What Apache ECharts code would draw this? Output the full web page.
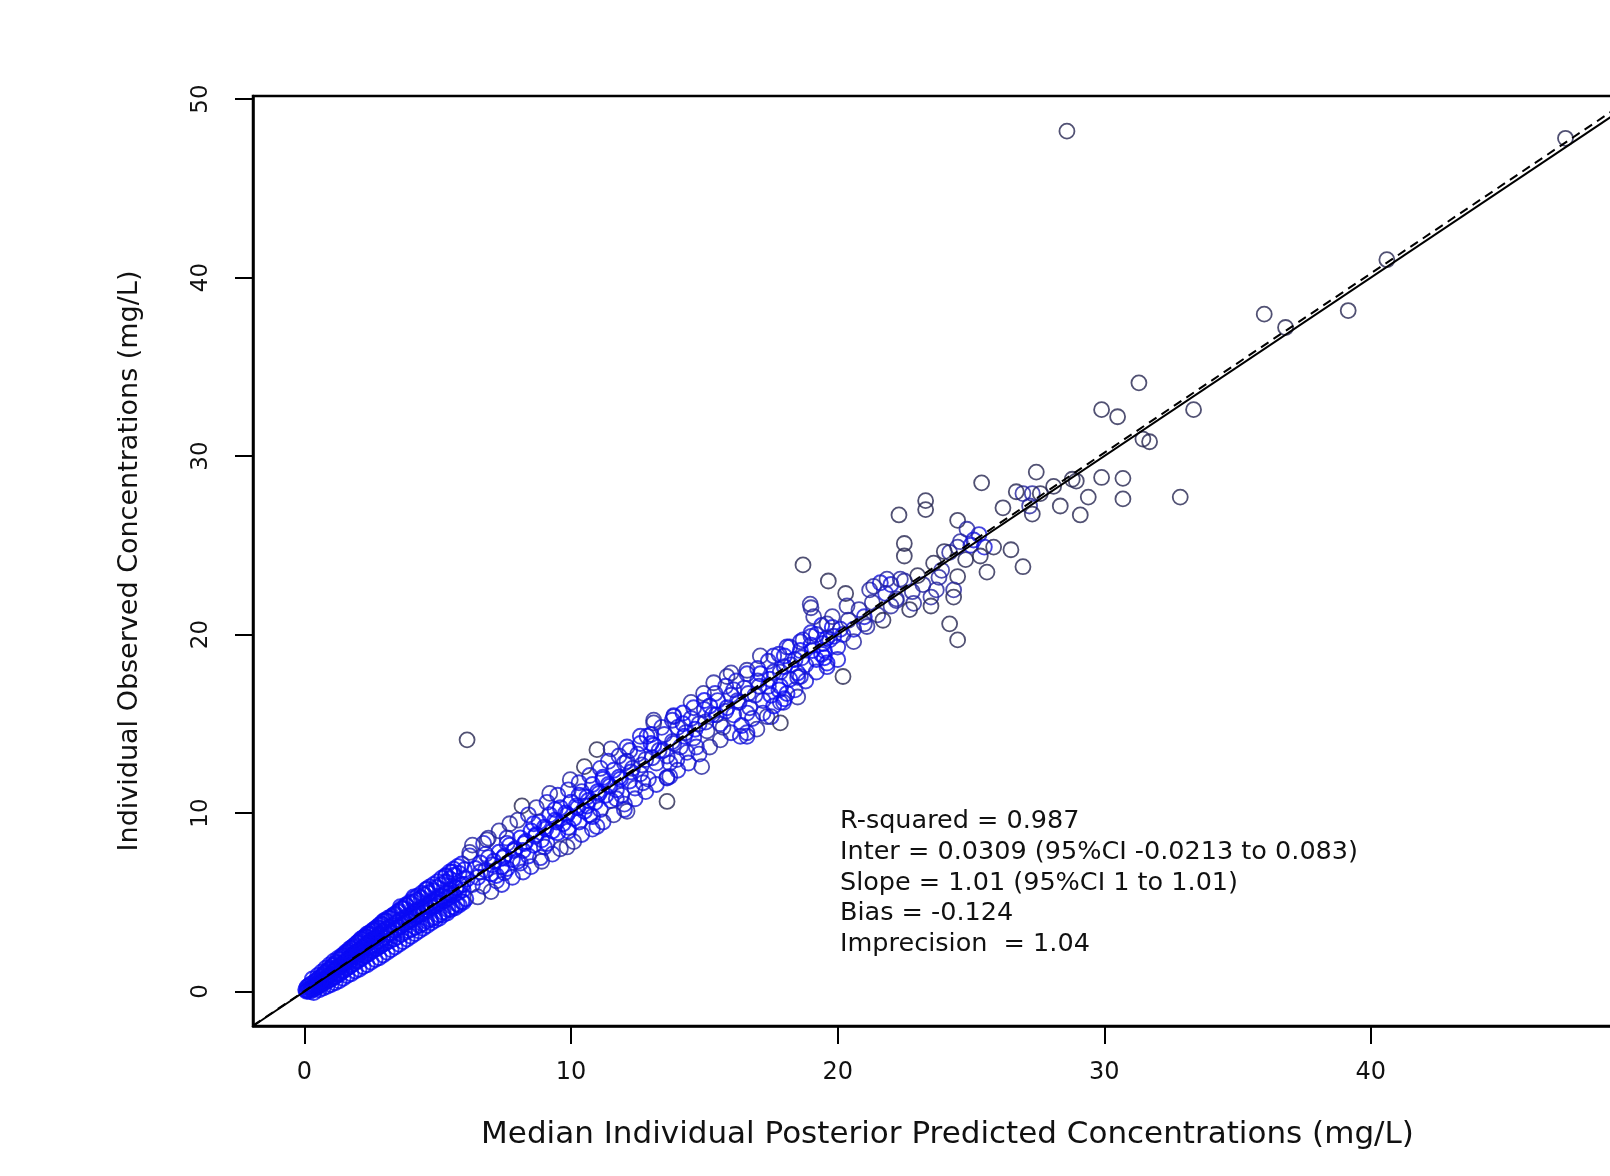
<!DOCTYPE html>
<html>
<head>
<meta charset="utf-8">
<script src="https://cdn.jsdelivr.net/npm/echarts@6/dist/echarts.min.js"></script>
<style>
html,body{margin:0;padding:0;background:#fff;}
#chart{width:1610px;height:1176px;}
</style>
</head>
<body>
<div id="chart"></div>
<script>
// ---------- DATA ----------
const xTickValues = [0, 10, 20, 30, 40, 50];
const yTickValues = [0, 10, 20, 30, 40, 50];
const xTitle = 'Median Individual Posterior Predicted Concentrations (mg/L)';
const yTitle = 'Individual Observed Concentrations (mg/L)';
const statLines = [
  'R-squared = 0.987',
  'Inter = 0.0309 (95%CI -0.0213 to 0.083)',
  'Slope = 1.01 (95%CI 1 to 1.01)',
  'Bias = -0.124',
  'Imprecision  = 1.04'
];
const regIntercept = [0.0309];
const regSlope = [1.005];
const identityIntercept = [0];
const identitySlope = [1];

// dense band, 0 - 6 mg/L
const lowBand = [
[0.05,0.1],[0.08,0.02],[0.1,0.25],[0.12,0.05],[0.15,0.3],[0.18,0.12],[0.2,0.0],[0.22,0.4],[0.25,0.2],[0.28,0.1],
[0.3,0.45],[0.32,0.28],[0.35,0.15],[0.38,0.55],[0.4,0.35],[0.42,0.2],[0.45,0.62],[0.48,0.4],[0.5,0.3],[0.52,0.72],
[0.55,0.5],[0.58,0.33],[0.6,0.8],[0.62,0.55],[0.65,0.42],[0.68,0.92],[0.7,0.64],[0.72,0.48],[0.75,1.02],[0.78,0.7],
[0.8,0.55],[0.82,1.12],[0.85,0.78],[0.88,0.6],[0.9,1.22],[0.92,0.9],[0.95,0.68],[0.98,1.3],[1.0,0.95],
[1.02,0.7],[1.05,1.45],[1.08,1.12],[1.1,0.8],[1.12,1.52],[1.15,1.2],[1.18,0.86],[1.2,1.62],[1.22,1.0],[1.25,1.35],
[1.28,0.94],[1.3,1.8],[1.32,1.42],[1.35,1.05],[1.38,1.92],[1.4,1.5],[1.42,1.14],[1.45,2.02],[1.48,1.6],[1.5,1.2],
[1.52,2.1],[1.55,1.7],[1.58,1.3],[1.6,2.22],[1.62,1.82],[1.65,1.36],[1.68,2.3],[1.7,1.9],[1.72,1.44],[1.75,2.42],
[1.78,2.0],[1.8,1.52],[1.82,2.5],[1.85,2.12],[1.88,1.6],[1.9,2.62],[1.92,2.2],[1.95,1.7],[1.98,2.72],[2.0,2.25],
[2.02,1.74],[2.05,2.82],[2.08,2.35],[2.1,1.82],[2.12,2.95],[2.15,2.4],[2.18,1.9],[2.2,3.02],[2.22,2.5],[2.25,2.0],
[2.28,3.1],[2.3,2.6],[2.32,2.05],[2.35,3.22],[2.38,2.7],[2.4,2.12],[2.42,3.25],[2.45,2.8],[2.48,2.2],[2.5,3.35],
[2.52,2.9],[2.55,2.3],[2.58,3.45],[2.6,2.95],[2.62,2.35],[2.65,3.52],[2.68,3.02],[2.7,2.4],[2.72,3.6],[2.75,3.1],
[2.78,2.5],[2.8,3.72],[2.82,3.2],[2.85,2.55],[2.88,3.8],[2.9,3.3],[2.92,2.62],[2.95,3.92],[2.98,3.4],[3.0,2.7],
[3.02,4.0],[3.05,3.5],[3.08,2.75],[3.1,3.2],[3.15,4.12],[3.18,3.6],[3.2,2.85],[3.25,3.3],[3.28,4.22],[3.3,3.7],
[3.35,2.95],[3.38,3.45],[3.42,4.35],[3.45,3.85],[3.48,3.05],[3.52,3.6],[3.55,4.52],[3.58,4.0],[3.62,3.2],[3.65,3.7],
[3.7,4.62],[3.72,4.1],[3.75,3.3],[3.8,3.85],[3.82,4.8],[3.85,4.2],[3.9,3.4],[3.92,3.95],[3.95,4.92],[4.0,4.3],
[4.02,3.5],[4.05,4.05],[4.1,5.02],[4.12,4.45],[4.15,3.6],[4.2,4.2],[4.22,5.12],[4.25,4.55],[4.3,3.7],[4.32,4.3],
[4.38,5.25],[4.4,4.7],[4.42,3.8],[4.48,4.4],[4.5,5.42],[4.55,4.8],[4.58,3.95],[4.62,4.55],[4.65,5.5],[4.7,4.95],
[4.72,4.05],[4.78,4.7],[4.8,5.65],[4.85,5.1],[4.88,4.15],[4.92,4.8],[4.95,5.82],[5.0,5.2],[5.05,4.3],[5.08,4.95],
[5.1,5.95],[5.15,5.35],[5.2,4.45],[5.25,5.1],[5.28,6.12],[5.32,5.5],[5.38,4.6],[5.42,5.25],[5.45,6.3],[5.5,5.65],
[5.55,4.75],[5.6,5.4],[5.62,6.52],[5.68,5.8],[5.72,4.9],[5.78,5.55],[5.8,6.62],[5.85,5.95],[5.9,5.05],[5.95,5.7],
[6.0,6.82],[5.55,6.7],[5.3,6.45],[4.6,5.75],[4.1,5.3],[3.6,4.75],[6.05,5.2]
];

// outer edge of the dense band, 0 - 6 mg/L
const lowBandEdge = [
[0.3,0.7],[0.35,-0.05],[0.5,0.9],[0.55,0.1],[0.65,1.1],[0.7,0.2],[0.8,1.3],[0.85,0.3],[0.95,1.5],[1.0,0.4],
[1.1,1.7],[1.15,0.5],[1.25,1.85],[1.3,0.6],[1.4,2.0],[1.45,0.75],[1.55,2.2],[1.6,0.9],[1.7,2.4],[1.75,1.0],
[1.85,2.55],[1.9,1.15],[2.0,2.75],[2.05,1.25],[2.15,2.9],[2.2,1.4],[2.3,3.05],[2.35,1.5],[2.45,3.2],[2.5,1.65],
[2.6,3.4],[2.65,1.8],[2.75,3.55],[2.8,1.9],[2.9,3.75],[2.95,2.05],[3.05,3.95],[3.1,2.2],[3.2,4.1],[3.25,2.35],
[3.35,4.3],[3.4,2.5],[3.5,4.45],[3.55,2.65],[3.65,4.65],[3.7,2.8],[3.8,4.85],[3.85,2.95],[3.95,5.0],[4.0,3.1],
[4.1,5.2],[4.15,3.25],[4.25,5.35],[4.3,3.4],[4.4,5.5],[4.45,3.55],[4.55,5.7],[4.6,3.7],[4.7,5.85],[4.75,3.85],
[4.85,6.0],[4.9,4.0],[5.0,6.15],[5.05,4.1],[5.15,6.35],[5.2,4.3],[5.3,6.5],[5.35,4.4],[5.45,6.7],[5.5,4.6],
[5.6,6.85],[5.65,4.7],[5.75,7.0],[5.8,4.85],[5.9,7.15],[5.95,5.0],
[0.6,0.6],[1.2,1.3],[1.7,1.7],[2.2,2.3],[2.7,2.8],[3.2,3.3],[3.7,3.8],[4.2,4.3],[4.7,4.8],[5.2,5.3],
[5.7,5.8],[1.45,1.45],[1.95,2.0],[2.45,2.5],[2.95,3.0],[3.45,3.5],[3.95,4.0],[4.45,4.5],[4.95,5.0],[5.45,5.5],[5.95,6.0]
];

// band, 6 - 26 mg/L
const midBand = [
[6.2,7.6],[6.72,8.3],[7.6,8.6],[8.85,7.5],[9.85,8.1],[8.16,10.4],[9.2,11.1],[9.97,11.87],[10.5,12.6],[10.97,13.55],
[11.5,13.6],[12.1,13.7],[12.6,14.3],[13.1,15.05],[13.85,15.4],[14.97,16.7],[15.35,17.3],[16.0,17.85],[17.1,18.8],[17.85,17.1],
[17.5,15.4],[16.97,14.7],[16.35,14.3],[16.6,14.5],[17.85,15.05],[18.5,16.5],[18.6,17.65],[17.85,16.2],[13.6,10.65],[14.9,12.6],
[12.1,10.1],[13.7,12.05],[13.97,13.0],[14.35,13.4],[13.6,11.96],[12.0,10.2],[10.97,9.25],[10.6,10.4],[7.5,6.65],[6.85,8.5],
[6.2,7.8],[13.1,15.2],[13.85,15.45],[12.85,14.3],[18.97,21.7],[18.7,19.7],[18.1,19.3],[17.6,18.8],[16.6,18.0],[15.85,17.65],
[14.5,16.2],[17.35,15.4],[18.1,16.7],[20.2,17.65],[19.6,18.4],[18.5,17.85],[17.97,16.2],[16.6,14.3],
[6.1,6.3],[6.3,6.0],[6.4,6.9],[6.5,6.4],[6.6,7.2],[6.7,5.9],[6.8,6.8],[6.9,7.5],[7.0,6.6],[7.1,7.3],
[7.2,6.2],[7.3,7.8],[7.4,7.0],[7.5,7.6],[7.6,6.9],[7.7,8.2],[7.8,7.4],[7.9,8.0],[8.0,7.3],[8.1,8.6],
[8.2,7.9],[8.3,8.4],[8.4,7.6],[8.5,9.0],[8.6,8.2],[8.7,8.8],[8.8,9.5],[8.9,8.5],[9.0,9.2],[9.1,8.3],
[9.2,9.9],[9.3,9.0],[9.4,9.6],[9.5,8.9],[9.6,10.3],[9.7,9.4],[9.8,10.0],[9.9,9.2],[10.0,10.6],[10.1,9.7],
[10.2,10.4],[10.3,9.5],[10.4,11.2],[10.5,10.1],[10.6,10.9],[10.7,9.9],[10.8,11.6],[10.9,10.6],[11.0,11.2],[11.1,10.2],
[11.2,12.0],[11.3,11.0],[11.4,11.6],[11.5,10.7],[11.6,12.4],[11.7,11.3],[11.8,12.0],[11.9,11.0],[12.0,12.8],[12.2,11.8],
[12.3,12.5],[12.4,11.4],[12.5,13.3],[12.6,12.2],[12.8,13.0],[12.9,11.9],[13.0,13.9],[13.2,12.8],[13.3,13.5],[13.5,14.4],
[13.6,13.2],[13.8,14.0],[14.0,14.8],[14.1,13.7],[14.3,14.5],[14.5,15.3],[14.6,14.2],[14.8,15.0],[15.0,15.8],[15.1,14.6],
[15.3,15.5],[15.5,16.3],[15.6,15.0],[15.8,15.7],[16.0,16.6],[16.1,15.5],[16.3,16.2],[16.5,17.0],[16.7,15.9],[16.9,16.6],
[17.0,17.4],[17.2,16.3],[17.4,17.1],[17.6,17.9],[17.8,16.9],[18.0,18.2],[18.2,17.5],[18.4,18.6],[18.6,19.1],[18.8,18.3],
[19.0,19.4],[19.2,20.0],[19.4,18.9],[19.6,19.8],[19.8,20.4],[20.0,19.3],[20.2,20.0],[20.4,20.8],[20.6,19.6],[20.8,21.4],
[21.0,20.6],[21.3,21.8],[21.5,21.1],[21.8,22.3],[22.0,22.8],[22.2,21.9],[22.5,23.0],[22.8,22.4],[23.0,23.3],[23.2,22.8],
[23.6,24.0],[23.8,23.2],[24.2,24.6],[24.6,25.2],[24.8,24.2],[25.3,25.6]
];

// extra spread of the band, 6 - 20 mg/L
const midBandEdge = [
[6.3,8.2],[6.5,5.3],[6.9,8.6],[7.0,5.6],[7.3,9.0],[7.4,6.0],[7.7,9.4],[7.8,6.4],[8.0,9.6],[8.2,6.7],
[8.4,9.9],[8.5,7.0],[8.7,10.3],[8.9,7.3],[9.1,10.6],[9.3,7.7],[9.5,11.0],[9.6,8.0],[9.9,11.3],[10.1,8.4],
[10.3,11.7],[10.4,8.8],[10.7,12.1],[10.8,9.1],[11.1,12.5],[11.2,9.5],[11.4,12.9],[11.6,9.9],[11.8,13.2],[12.0,10.5],
[12.2,13.5],[12.4,10.8],[12.6,13.9],[12.8,11.2],[13.0,14.4],[13.2,11.6],[13.4,14.8],[13.6,12.0],[13.8,15.2],[14.0,12.4],
[14.2,15.6],[14.4,12.8],[14.6,15.9],[14.8,13.3],[15.0,16.3],[15.2,13.7],[15.4,16.7],[15.6,14.1],[15.8,17.1],[16.0,14.5],
[16.2,17.4],[16.4,14.9],[16.6,17.8],[16.8,15.3],[17.0,18.1],[17.2,15.6],[17.4,18.5],[17.6,16.0],[17.8,18.9],[18.0,16.4],
[18.2,19.3],[18.4,16.9],[18.6,19.6],[18.8,17.4],[19.0,20.1],[19.2,17.9],[19.4,20.5],[19.6,18.2],[19.8,21.0],[20.0,18.6],
[6.6,6.7],[7.05,7.1],[7.45,7.5],[7.85,7.9],[8.25,8.3],[8.65,8.7],[9.05,9.1],[9.45,9.5],[9.85,9.9],[10.25,10.3],
[10.65,10.7],[11.05,11.1],[11.45,11.5],[11.85,11.9],[12.25,12.3],[12.65,12.7],[13.05,13.1],[13.45,13.5],[13.85,13.9],[14.25,14.3],
[14.65,14.7],[15.05,15.1],[15.45,15.5],[15.85,15.9],[16.25,16.3],[16.65,16.7],[17.05,17.1],[17.45,17.5],[17.85,17.9],[18.25,18.3],
[18.65,18.7],[19.05,19.1],[19.45,19.5],[19.85,19.9],
[6.8,7.7],[7.2,6.5],[7.6,8.3],[8.1,7.2],[8.6,9.4],[9.0,8.1],[9.4,10.2],[9.9,9.0],[10.3,11.0],[10.8,9.8],
[11.2,11.9],[11.7,10.8],[12.1,12.9],[12.7,11.7],[13.1,13.8],[13.7,12.8],[14.2,15.0],[14.7,13.7],[15.2,16.0],[15.7,14.8],
[16.1,16.9],[16.6,15.6],[17.1,17.8],[17.5,16.6],[18.0,18.8],[18.5,17.6],[19.0,19.9],[19.5,18.7]
];

// sparse upper range, 18 - 48 mg/L
const highRange = [
[47.3,47.8],[40.6,41.0],[36.0,37.95],[36.8,37.2],[39.15,38.15],[31.3,34.1],[29.9,32.6],[30.5,32.2],[33.35,32.6],[31.45,30.95],
[31.7,30.8],[27.45,29.1],[25.4,28.5],[29.9,28.8],[30.7,28.75],[30.7,27.6],[29.4,27.7],[29.1,26.7],[28.95,28.6],[28.35,27.2],
[28.1,28.3],[28.8,28.7],[27.3,27.9],[26.95,27.9],[26.7,28.0],[27.6,27.9],[27.2,27.2],[27.3,26.75],[26.2,27.1],[23.3,27.5],
[23.3,27.0],[22.3,26.7],[24.5,26.4],[24.85,25.9],[25.1,25.3],[24.5,24.9],[25.0,25.0],[25.5,24.9],[25.85,24.9],[26.5,24.75],
[26.95,23.8],[25.6,23.5],[25.35,24.4],[24.0,24.65],[22.5,25.1],[22.5,24.4],[24.5,23.25],[24.35,22.5],[23.7,22.5],[23.5,22.1],
[22.85,21.75],[24.35,22.1],[23.5,21.6],[24.2,20.6],[18.7,23.9],[19.65,23.0],[20.3,22.3],[19.0,21.5],[20.35,21.6],
[21.2,22.5],[21.6,22.9],[21.85,23.1],[22.7,21.4],[22.0,21.6],[21.0,21.0],[20.6,20.3],[20.1,20.3],[19.7,19.7],[19.5,19.1],
[19.2,18.6],[22.35,23.1],[21.35,22.7],[21.7,20.8],[21.1,20.45],[19.1,21.0],[19.6,20.6],[22.2,22.0],[23.9,23.6]
];

// isolated outliers
const outliers = [
[28.6,48.2],[6.1,14.1],[32.85,27.7],[24.5,19.7]
];

// ---------- LAYOUT ----------
const axisMin = -1.93, axisMax = 50.17;
const G = {left: 253, top: 96, width: 1389, height: 930};
const FONT = '"DejaVu Sans", "Liberation Sans", sans-serif';

// colour each circle by how crowded its neighbourhood is (dense = bright blue, isolated = dark navy)
const allPts = lowBand.concat(lowBandEdge, midBand, midBandEdge, highRange, outliers);
const kx = G.width / (axisMax - axisMin), ky = G.height / (axisMax - axisMin);
const scatterData = allPts.map(function (p) {
  let n = 0;
  for (const q of allPts) {
    const dx = (p[0] - q[0]) * kx, dy = (p[1] - q[1]) * ky;
    if (dx * dx + dy * dy < 14 * 14) n++;
  }
  let c, w;
  if (n >= 8) { c = '#0a0af5'; w = 2.0; }
  else if (n >= 5) { c = '#1414d8'; w = 1.9; }
  else if (n >= 3) { c = '#22229e'; w = 1.8; }
  else { c = '#262650'; w = 1.8; }
  return {value: p, itemStyle: {borderColor: c, borderWidth: w}};
});

function ablinePts(a, b) {
  return [[axisMin, a + b * axisMin], [axisMax, a + b * axisMax]];
}

const chart = echarts.init(document.getElementById('chart'), null, {renderer: 'canvas'});
chart.setOption({
  backgroundColor: '#ffffff',
  animation: false,
  grid: {left: G.left, top: G.top, width: G.width, height: G.height, show: true,
         outerBoundsMode: 'none', containLabel: false,
         borderColor: '#000', borderWidth: 2.5, backgroundColor: 'transparent'},
  xAxis: {
    type: 'value', min: axisMin, max: axisMax,
    name: xTitle, nameLocation: 'middle', nameGap: 93,
    nameTextStyle: {fontFamily: FONT, fontSize: 31, color: '#111'},
    axisLine: {show: true, onZero: false, lineStyle: {color: '#000', width: 2.5}},
    axisTick: {show: true, length: 18, customValues: xTickValues, lineStyle: {color: '#000', width: 2}},
    axisLabel: {show: true, customValues: xTickValues, margin: 35, fontFamily: FONT, fontSize: 24, color: '#111'},
    splitLine: {show: false}
  },
  yAxis: {
    type: 'value', min: axisMin, max: axisMax,
    name: yTitle, nameLocation: 'middle', nameGap: 110,
    nameTextStyle: {fontFamily: FONT, fontSize: 27, color: '#111'},
    axisLine: {show: true, onZero: false, lineStyle: {color: '#000', width: 2.5}},
    axisTick: {show: true, length: 18, customValues: yTickValues, lineStyle: {color: '#000', width: 2}},
    axisLabel: {show: true, customValues: yTickValues, rotate: 90, margin: 40, fontFamily: FONT, fontSize: 23, color: '#111'},
    splitLine: {show: false}
  },
  series: [
    {
      type: 'scatter', symbol: 'circle', symbolSize: 15,
      itemStyle: {color: 'rgba(0,0,0,0)', borderWidth: 1.8},
      data: scatterData, z: 2, silent: true
    },
    {
      type: 'line', data: ablinePts(identityIntercept[0], identitySlope[0]), symbol: 'none', clip: true,
      lineStyle: {color: '#000', width: 2}, z: 3, silent: true
    },
    {
      type: 'line', data: ablinePts(regIntercept[0], regSlope[0]), symbol: 'none', clip: true,
      lineStyle: {color: '#000', width: 2, type: [9, 6]}, z: 4, silent: true
    }
  ],
  graphic: [{
    type: 'text', left: 840, top: 806, z: 10,
    style: {text: statLines.join('\n'), font: '25.5px ' + FONT, fill: '#111', lineHeight: 30.8}
  }]
});
</script>
</body>
</html>
